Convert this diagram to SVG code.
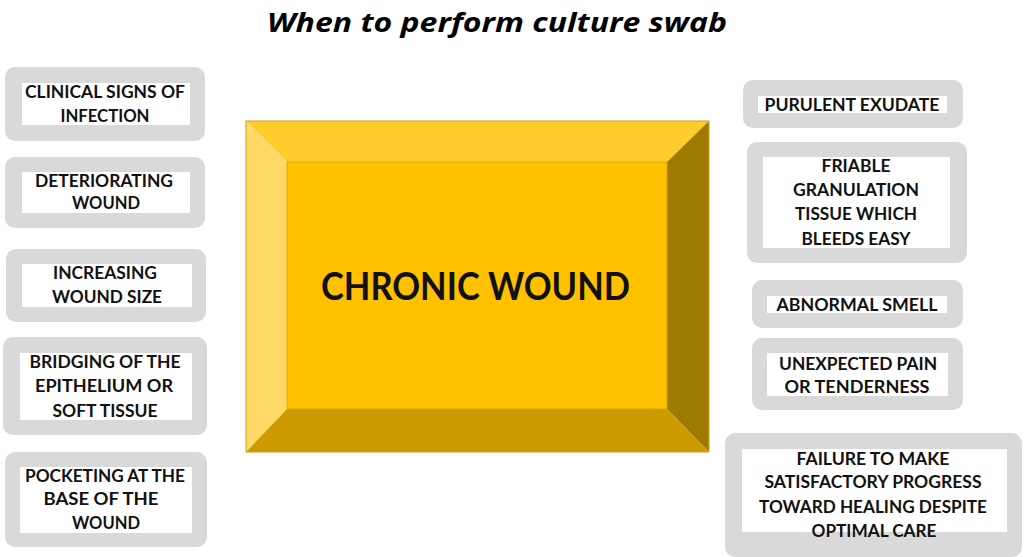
<svg xmlns="http://www.w3.org/2000/svg" width="1024" height="557" viewBox="0 0 1024 557">
<style>
.outer{fill:#D9D9D9}
.inner{fill:#FFFFFF}
.lbl{font-family:Lato,"Open Sans","Liberation Sans",sans-serif;font-weight:bold;font-size:16.5px;fill:#111111;text-anchor:middle}
.title{font-family:"Open Sans",Lato,"Liberation Sans",sans-serif;font-weight:bold;font-style:italic;font-size:27px;fill:#000000;text-anchor:middle}
.main{font-family:Lato,"Open Sans","Liberation Sans",sans-serif;font-weight:bold;font-size:37.5px;fill:#111111;text-anchor:middle}
</style>
<rect width="1024" height="557" fill="#FFFFFF"/>
<g id="title"><text class="title" x="497" y="32" textLength="460" lengthAdjust="spacingAndGlyphs">When to perform culture swab</text></g>

<g id="chronic-wound">
<polygon points="246,121 709,121 667,162 287,162" fill="#FFCC2E"/>
<polygon points="246,121 287,162 287,409 246,452" fill="#FFD966"/>
<polygon points="709,121 709,452 667,409 667,162" fill="#9E7B00"/>
<polygon points="246,452 287,409 667,409 709,452" fill="#CC9B00"/>
<rect x="287" y="162" width="380" height="247" fill="#FFC000"/>
<rect x="246" y="121" width="463" height="331" fill="none" stroke="#C8A020" stroke-width="1"/>
<rect x="287" y="162" width="380" height="247" fill="none" stroke="#D9A800" stroke-width="0.8"/>
<text class="main" x="475.5" y="300" textLength="309" lengthAdjust="spacingAndGlyphs">CHRONIC WOUND</text>
</g>

<g id="l1">
<rect class="outer" x="5" y="67" width="200" height="74" rx="10"/>
<rect class="inner" x="22" y="83" width="168" height="42"/>
<text class="lbl" x="105" y="98" textLength="160" lengthAdjust="spacingAndGlyphs">CLINICAL SIGNS OF</text>
<text class="lbl" x="105" y="122" textLength="89" lengthAdjust="spacingAndGlyphs">INFECTION</text>
</g>
<g id="l2">
<rect class="outer" x="5" y="157" width="200" height="71" rx="10"/>
<rect class="inner" x="22" y="172" width="168" height="41"/>
<text class="lbl" x="104" y="187" textLength="138" lengthAdjust="spacingAndGlyphs">DETERIORATING</text>
<text class="lbl" x="106" y="209" textLength="68" lengthAdjust="spacingAndGlyphs">WOUND</text>
</g>
<g id="l3">
<rect class="outer" x="6" y="249" width="200" height="73" rx="10"/>
<rect class="inner" x="22" y="264" width="170" height="43"/>
<text class="lbl" x="105" y="279" textLength="104" lengthAdjust="spacingAndGlyphs">INCREASING</text>
<text class="lbl" x="107" y="303" textLength="110" lengthAdjust="spacingAndGlyphs">WOUND SIZE</text>
</g>
<g id="l4">
<rect class="outer" x="3" y="337" width="204" height="98" rx="10"/>
<rect class="inner" x="20" y="353" width="172" height="67"/>
<text class="lbl" x="105" y="368" textLength="151" lengthAdjust="spacingAndGlyphs">BRIDGING OF THE</text>
<text class="lbl" x="104" y="392" textLength="138" lengthAdjust="spacingAndGlyphs">EPITHELIUM OR</text>
<text class="lbl" x="105" y="417" textLength="105" lengthAdjust="spacingAndGlyphs">SOFT TISSUE</text>
</g>
<g id="l5">
<rect class="outer" x="5" y="452" width="202" height="95" rx="10"/>
<rect class="inner" x="20" y="467" width="172" height="66"/>
<text class="lbl" x="105" y="482" textLength="160" lengthAdjust="spacingAndGlyphs">POCKETING AT THE</text>
<text class="lbl" x="101" y="505" textLength="115" lengthAdjust="spacingAndGlyphs">BASE OF THE</text>
<text class="lbl" x="106" y="529" textLength="68" lengthAdjust="spacingAndGlyphs">WOUND</text>
</g>

<g id="r1">
<rect class="outer" x="743" y="80" width="220" height="48" rx="10"/>
<rect class="inner" x="758" y="96" width="189" height="17"/>
<text class="lbl" x="852" y="111" textLength="175" lengthAdjust="spacingAndGlyphs">PURULENT EXUDATE</text>
</g>
<g id="r2">
<rect class="outer" x="747" y="142" width="220" height="121" rx="10"/>
<rect class="inner" x="763" y="157" width="187" height="91"/>
<text class="lbl" x="856" y="172" textLength="69" lengthAdjust="spacingAndGlyphs">FRIABLE</text>
<text class="lbl" x="856" y="196" textLength="126" lengthAdjust="spacingAndGlyphs">GRANULATION</text>
<text class="lbl" x="856" y="220" textLength="122" lengthAdjust="spacingAndGlyphs">TISSUE WHICH</text>
<text class="lbl" x="856" y="245" textLength="109" lengthAdjust="spacingAndGlyphs">BLEEDS EASY</text>
</g>
<g id="r3">
<rect class="outer" x="752" y="280" width="211" height="48" rx="10"/>
<rect class="inner" x="767" y="296" width="180" height="17"/>
<text class="lbl" x="857" y="311" textLength="161" lengthAdjust="spacingAndGlyphs">ABNORMAL SMELL</text>
</g>
<g id="r4">
<rect class="outer" x="752" y="338" width="211" height="72" rx="10"/>
<rect class="inner" x="767" y="353" width="181" height="43"/>
<text class="lbl" x="858" y="370" textLength="158" lengthAdjust="spacingAndGlyphs">UNEXPECTED PAIN</text>
<text class="lbl" x="857" y="393" textLength="145" lengthAdjust="spacingAndGlyphs">OR TENDERNESS</text>
</g>
<g id="r5">
<rect class="outer" x="725" y="433" width="297" height="124" rx="10"/>
<rect class="inner" x="742" y="449" width="265" height="83"/>
<text class="lbl" x="873" y="465" textLength="153" lengthAdjust="spacingAndGlyphs">FAILURE TO MAKE</text>
<text class="lbl" x="873" y="488" textLength="217" lengthAdjust="spacingAndGlyphs">SATISFACTORY PROGRESS</text>
<text class="lbl" x="873" y="513" textLength="228" lengthAdjust="spacingAndGlyphs">TOWARD HEALING DESPITE</text>
<text class="lbl" x="874" y="537" textLength="125" lengthAdjust="spacingAndGlyphs">OPTIMAL CARE</text>
</g>
<g id="connectors"></g>
</svg>
